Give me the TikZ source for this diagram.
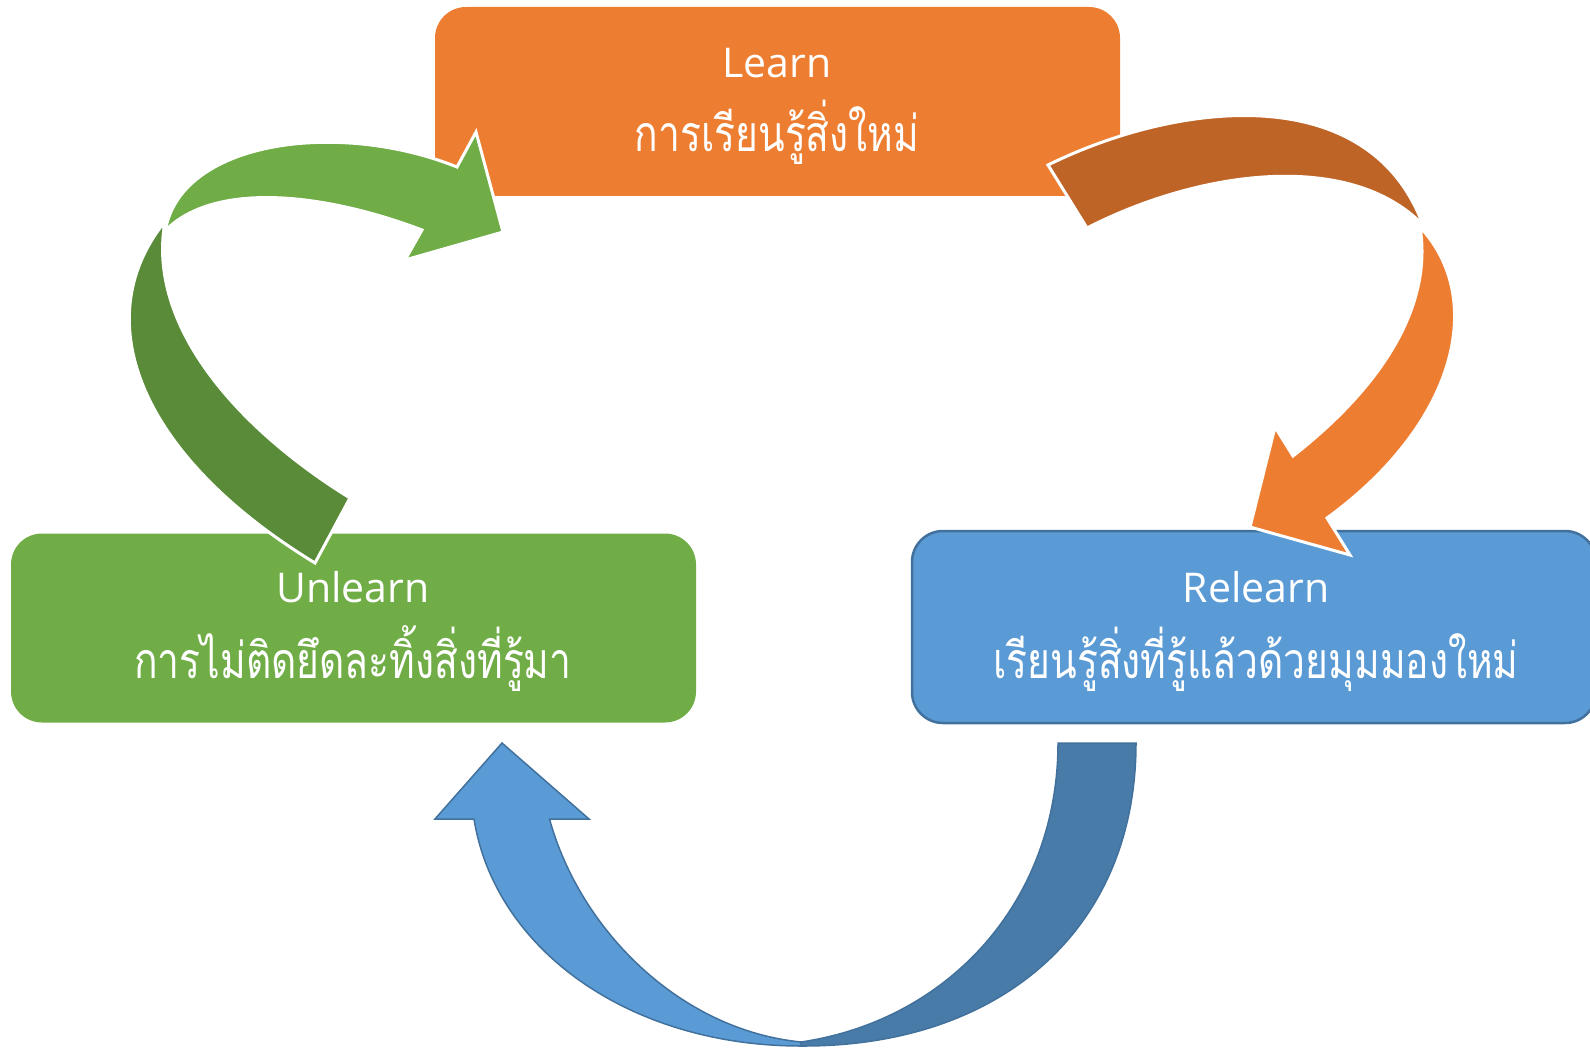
\documentclass[tikz,border=0pt]{standalone}
\usepackage{fontspec}
\setmainfont{Open Sans}
\newfontfamily\thaifont[Script=Thai, FakeStretch=0.78]{Loma}
\definecolor{orangeC}{HTML}{ED7D31}
\definecolor{orangeD}{HTML}{BF6427}
\definecolor{greenC}{HTML}{70AD47}
\definecolor{greenD}{HTML}{5A8B39}
\definecolor{blueC}{HTML}{5B9BD5}
\definecolor{blueD}{HTML}{487BA8}
\definecolor{blueB}{HTML}{41719C}
\begin{document}
\begin{tikzpicture}[x=1pt,y=-1pt,
  box/.style={rectangle, rounded corners=31, inner sep=0, outer sep=0, minimum width=685, minimum height=189},
  latin/.style={anchor=base, text=white, font=\fontsize{41}{48}\selectfont},
  thai/.style={anchor=base, text=white, font=\thaifont\fontsize{50}{60}\selectfont},
  wband/.style={draw=white, line width=3, line join=miter},
  bband/.style={draw=blueB, line width=1.5, line join=miter}]
\useasboundingbox (0,0) rectangle (1590,1051);
% boxes
\node[box, fill=orangeC] (learn) at (777.5,101.5) {};
\node[box, fill=greenC] (unlearn) at (353.5,628) {};
\node[box, fill=blueC, draw=blueB, line width=2.5, minimum width=684, minimum height=192] (relearn) at (1254,627) {};
% texts
\node[latin] (learnA) at (777,78) {Learn};
\node[thai] (learnB) at (777,152) {การเรียนรู้สิ่งใหม่};
\node[latin] (unlearnA) at (353,602) {Unlearn};
\node[thai] (unlearnB) at (353,678) {การไม่ติดยึดละทิ้งสิ่งที่รู้มา};
\node[latin] (relearnA) at (1256,602) {Relearn};
\node[thai] (relearnB) at (1256,678) {เรียนรู้สิ่งที่รู้แล้วด้วยมุมมองใหม่};
% green arrow (Unlearn -> Learn)
\filldraw[fill=greenD, wband] (163,224) .. controls (88,320) and (138,455) .. (315,563) -- (350,498)
  .. controls (240,430) and (150,330) .. (164,228) -- cycle;
\filldraw[fill=greenC, wband] (166,227) .. controls (185,140) and (340,120) .. (457,167) -- (476,132) -- (503,232)
  -- (405,260) -- (422,230) .. controls (330,195) and (220,180) .. (168,228) -- cycle;
% orange arrow (Learn -> Relearn)
\filldraw[fill=orangeD, wband] (1048,165) .. controls (1180,100) and (1370,80) .. (1423,225)
  .. controls (1350,150) and (1200,170) .. (1087,228) -- cycle;
\filldraw[fill=orangeC, wband] (1420,227) .. controls (1488,300) and (1455,425) .. (1327,518) -- (1350,555)
  -- (1250,527) -- (1275,427) -- (1293,456) .. controls (1390,380) and (1432,300) .. (1420,227) -- cycle;
% blue arrow (Relearn -> Unlearn)
\filldraw[fill=blueC, bband] (801,1046) .. controls (630,1046) and (495,950) .. (474,819) -- (435,819) -- (502,743)
  -- (589,819) -- (549.5,819) .. controls (580,930) and (680,1030) .. (801,1042) -- cycle;
\filldraw[fill=blueD, bband] (1058,743) -- (1136,743) .. controls (1136,930) and (1000,1047) .. (801,1046)
  -- (801,1042) .. controls (950,1020) and (1058,900) .. (1058,743) -- cycle;
\end{tikzpicture}
\end{document}
